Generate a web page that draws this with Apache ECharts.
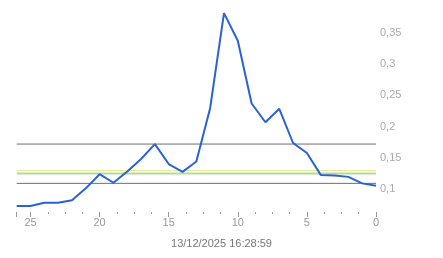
<!DOCTYPE html>
<html>
<head>
<meta charset="utf-8">
<script src="https://cdn.jsdelivr.net/npm/echarts@6/dist/echarts.min.js"></script>
<style>html,body{margin:0;padding:0;background:#fff}#c{width:443px;height:258px}</style>
</head>
<body>
<div id="c"></div>
<script>
var xValues = [26,25,24,23,22,21,20,19,18,17,16,15,14,13,12,11,10,9,8,7,6,5,4,3,2,1,0];
var seriesValues = [0.0726,0.0726,0.078,0.078,0.082,0.101,0.1237,0.110,0.128,0.148,0.172,0.140,0.1274,0.144,0.230,0.3818,0.3376,0.237,0.207,0.2285,0.1737,0.1576,0.1226,0.1215,0.1194,0.109,0.1053];
var grayLevels = [0.172, 0.109];
var yellowLevel = 0.1294;
var greenLevel = 0.1250;
var yLabelValues = [0.1,0.15,0.2,0.25,0.3,0.35];
var titleText = '13/12/2025 16:28:59';

var chart = echarts.init(document.getElementById('c'), null, {renderer:'canvas'});
var pts = xValues.map(function(x,i){return [x, seriesValues[i]];});
function level(v, color, width){
  return {type:'line',silent:true,showSymbol:false,data:[[26,v],[0,v]],lineStyle:{color:color,width:width},z:2};
}
chart.setOption({
  animation:false,
  title:{text:titleText,left:'center',top:233,textStyle:{fontSize:11,fontWeight:'normal',color:'#777',fontFamily:'Liberation Sans'}},
  grid:{left:16.7,right:67,top:5,bottom:46},
  xAxis:{type:'value',inverse:true,min:0,max:26,interval:5,
    axisLine:{show:false},
    axisTick:{show:true,length:5,lineStyle:{color:'#999'}},
    minorTick:{show:true,splitNumber:4,length:2,lineStyle:{color:'#999'}},
    splitLine:{show:false},
    axisLabel:{margin:5,fontSize:11,color:'#999',fontFamily:'Liberation Sans',showMaxLabel:false,
      formatter:function(v){return v===26?'':String(v);}}
  },
  yAxis:{type:'value',position:'right',min:0.0631,max:0.3949,
    axisLine:{show:false},axisTick:{show:false},splitLine:{show:false},
    axisLabel:{margin:4,fontSize:11,color:'#aaa',fontFamily:'Liberation Sans',
      customValues:yLabelValues,
      formatter:function(v){return String(+v.toFixed(2)).replace('.',',');}}
  },
  series:[
    level(grayLevels[0], '#707070', 1),
    level(grayLevels[1], '#707070', 1),
    level(greenLevel, '#b0dc98', 2),
    level(yellowLevel, '#e6e68a', 1),
    {type:'line',data:pts,showSymbol:false,lineStyle:{color:'#2a62d6',width:2},z:5}
  ]
});
</script>
</body>
</html>
